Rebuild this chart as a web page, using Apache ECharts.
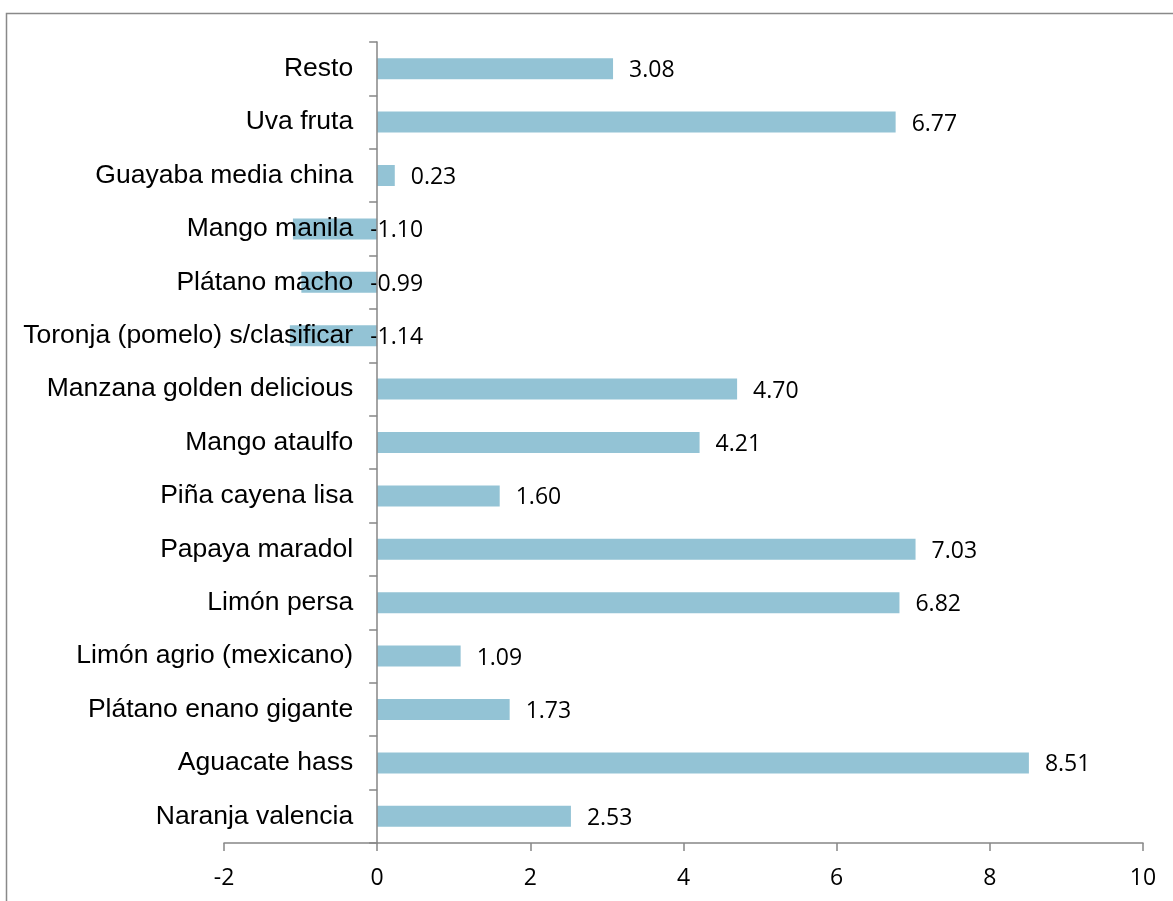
<!DOCTYPE html>
<html>
<head>
<meta charset="utf-8">
<script src="https://cdn.jsdelivr.net/npm/echarts@6/dist/echarts.min.js"></script>
<style>
html,body{margin:0;padding:0;background:#fff;}
#chart{width:1173px;height:901px;}
</style>
</head>
<body>
<div id="chart"></div>
<script>
// categories listed bottom to top
var categories = [
  "Naranja valencia",
  "Aguacate hass",
  "Plátano enano gigante",
  "Limón agrio (mexicano)",
  "Limón persa",
  "Papaya maradol",
  "Piña cayena lisa",
  "Mango ataulfo",
  "Manzana golden delicious",
  "Toronja (pomelo) s/clasificar",
  "Plátano macho",
  "Mango manila",
  "Guayaba media china",
  "Uva fruta",
  "Resto"
];
var values = [2.53, 8.51, 1.73, 1.09, 6.82, 7.03, 1.60, 4.21, 4.70, -1.14, -0.99, -1.10, 0.23, 6.77, 3.08];
var xTicks = [-2, 0, 2, 4, 6, 8, 10];

var gridLeft = 224, gridRight = 30;
var chartW = 1173;
var xMin = xTicks[0], xMax = xTicks[xTicks.length - 1];
// shift the category axis so that it sits at x = 0
var zeroShift = (0 - xMin) / (xMax - xMin) * (chartW - gridLeft - gridRight);

var chart = echarts.init(document.getElementById('chart'), null, {renderer: 'canvas'});
var barData = values.map(function (v) {
  var item = { value: v };
  if (v < 0) {
    item.label = { position: 'right', distance: -7 };
  }
  return item;
});
chart.setOption({
  animation: false,
  backgroundColor: '#ffffff',
  grid: { left: gridLeft, right: gridRight, top: 42, bottom: 58, containLabel: false, outerBoundsMode: 'none' },
  graphic: [{
    type: 'rect',
    shape: { x: 6.5, y: 13.5, width: 1200, height: 1000 },
    style: { fill: 'none', stroke: '#898989', lineWidth: 1.5 },
    silent: true
  }],
  xAxis: {
    type: 'value',
    min: xMin,
    max: xMax,
    interval: 2,
    splitLine: { show: false },
    axisLine: { show: true, onZero: false, lineStyle: { color: '#868686', width: 1.5 } },
    axisTick: { show: true, length: 8, lineStyle: { color: '#868686', width: 1.5 } },
    axisLabel: { color: '#000', fontFamily: 'Open Sans', fontSize: 23, margin: 24 }
  },
  yAxis: {
    type: 'category',
    data: categories,
    offset: -zeroShift,
    z: 10,
    axisLine: { show: true, onZero: false, lineStyle: { color: '#868686', width: 1.5 } },
    axisTick: { show: true, length: 8, alignWithLabel: false, lineStyle: { color: '#868686', width: 1.5 } },
    axisLabel: { color: '#000', fontFamily: 'Liberation Sans', fontSize: 26.5, margin: 24, padding: [3, 0, 0, 0] },
    splitLine: { show: false }
  },
  series: [{
    type: 'bar',
    data: barData,
    barWidth: 21,
    itemStyle: { color: '#93C3D5' },
    label: {
      show: true,
      position: 'right',
      distance: 16,
      offset: [0, 2],
      color: '#000',
      fontFamily: 'Open Sans',
      fontSize: 23,
      formatter: function (p) { return p.value.toFixed(2); }
    }
  }]
});
</script>
</body>
</html>
